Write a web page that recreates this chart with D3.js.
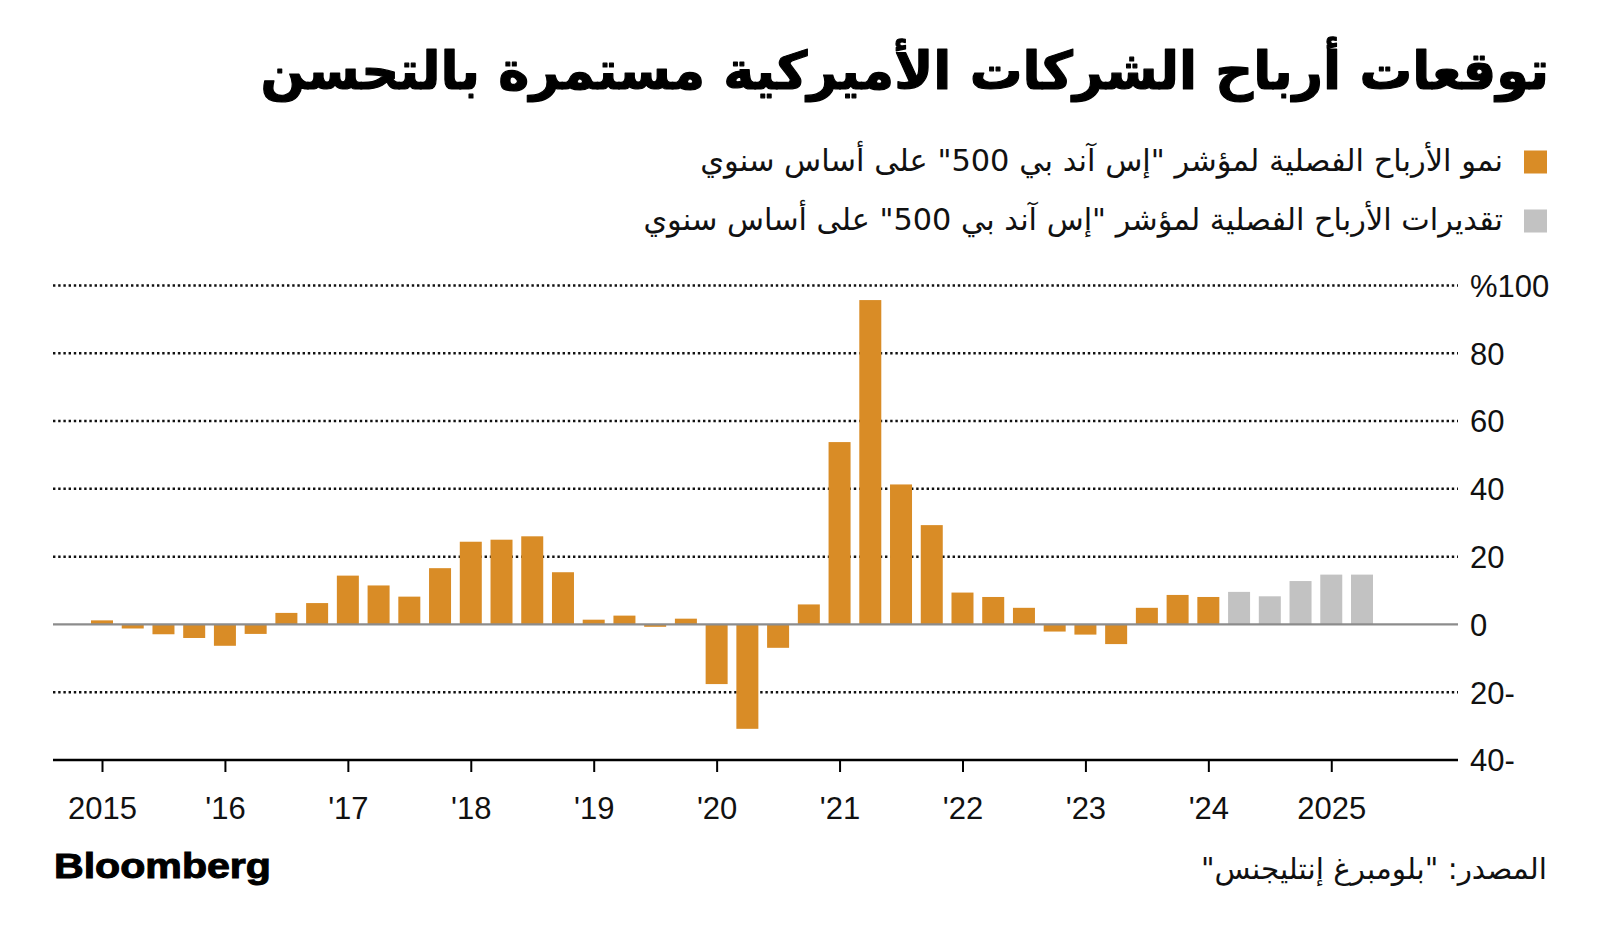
<!DOCTYPE html>
<html>
<head>
<meta charset="utf-8">
<script src="https://cdn.jsdelivr.net/npm/d3@7"></script>
<style>
  html, body { margin: 0; padding: 0; background: #fff; }
  svg { display: block; }
</style>
</head>
<body>
<svg id="chart" width="1600" height="949"></svg>
<script>
// ---- Data ----
const quarters = [
  "2015 Q1","2015 Q2","2015 Q3","2015 Q4",
  "2016 Q1","2016 Q2","2016 Q3","2016 Q4",
  "2017 Q1","2017 Q2","2017 Q3","2017 Q4",
  "2018 Q1","2018 Q2","2018 Q3","2018 Q4",
  "2019 Q1","2019 Q2","2019 Q3","2019 Q4",
  "2020 Q1","2020 Q2","2020 Q3","2020 Q4",
  "2021 Q1","2021 Q2","2021 Q3","2021 Q4",
  "2022 Q1","2022 Q2","2022 Q3","2022 Q4",
  "2023 Q1","2023 Q2","2023 Q3","2023 Q4",
  "2024 Q1","2024 Q2","2024 Q3","2024 Q4",
  "2025 Q1","2025 Q2"
];
const actualGrowth = [
  1.2, -1.2, -2.9, -4.0,
  -6.3, -2.8, 3.4, 6.3,
  14.4, 11.5, 8.2, 16.6,
  24.4, 25.0, 26.0, 15.4,
  1.4, 2.6, -0.7, 1.7,
  -17.6, -30.8, -6.9, 5.9,
  53.8, 95.7, 41.3, 29.3,
  9.4, 8.1, 4.9, -2.1,
  -3.0, -5.8, 4.9, 8.7,
  8.1
];
const estimatedGrowth = [9.6, 8.3, 12.8, 14.7, 14.7];
const yTickValues = [-40, -20, 0, 20, 40, 60, 80, 100];
const yTickLabels = ["40-", "20-", "0", "20", "40", "60", "80", "%100"];
const yearTickQuarters = ["2015 Q1","2016 Q1","2017 Q1","2018 Q1","2019 Q1","2020 Q1","2021 Q1","2022 Q1","2023 Q1","2024 Q1","2025 Q1"];
const yearTickLabels = ["2015","'16","'17","'18","'19","'20","'21","'22","'23","'24","2025"];

const titleText = "توقعات أرباح الشركات الأميركية مستمرة بالتحسن";
const legendItems = [
  'نمو الأرباح الفصلية لمؤشر "إس آند بي 500" على أساس سنوي',
  'تقديرات الأرباح الفصلية لمؤشر "إس آند بي 500" على أساس سنوي'
];
const sourceText = 'المصدر: "بلومبرغ إنتليجنس"';
const logoText = "Bloomberg";

// ---- Styles ----
const ORANGE = "#D98C26";
const GREY = "#C2C2C2";
const ARABIC_FONT = "'DejaVu Sans', 'Noto Sans', sans-serif";
const LATIN_FONT = "'Liberation Sans', Arial, sans-serif";

const svg = d3.select("#chart");

// records
const bars = quarters.map((q, i) => ({
  q, i,
  value: i < actualGrowth.length ? actualGrowth[i] : estimatedGrowth[i - actualGrowth.length],
  est: i >= actualGrowth.length
}));

// ---- Scales ----
const plotLeft = 53, plotRight = 1458;
const x = d3.scaleLinear().domain([0, quarters.length - 1]).range([102, 1362]);
const y = d3.scaleLinear().domain([-40, 100]).range([760, 285.5]);
const barW = 22;

// helper: fit text to a width and right-align
function fitText(sel, targetWidth, rightX) {
  const node = sel.node();
  const fs = parseFloat(sel.attr("font-size"));
  const w = node.getComputedTextLength();
  if (w > 0) sel.attr("font-size", (fs * targetWidth / w).toFixed(2));
  const bb = node.getBBox();
  const curX = parseFloat(sel.attr("x"));
  sel.attr("x", curX + (rightX - (bb.x + bb.width)));
}

// ---- Title ----
const title = svg.append("text")
  .attr("x", 1549).attr("y", 89)
  .attr("direction", "rtl")
  .attr("font-family", ARABIC_FONT)
  .attr("font-weight", "bold")
  .attr("font-size", 56)
  .attr("fill", "#000")
  .attr("stroke", "#000")
  .attr("stroke-width", 1.2)
  .attr("stroke-linejoin", "round")
  .text(titleText);
fitText(title, 1289, 1549);

// ---- Legend ----
const legendColors = [ORANGE, GREY];
const legendY = [162, 221];
const legendTargets = [803, 860];
legendItems.forEach((t, k) => {
  svg.append("rect")
    .attr("x", 1524).attr("y", legendY[k] - 11.5)
    .attr("width", 23).attr("height", 23)
    .attr("fill", legendColors[k]);
  const lt = svg.append("text")
    .attr("x", 1503).attr("y", legendY[k] + 9)
    .attr("direction", "rtl")
    .attr("font-family", ARABIC_FONT)
    .attr("font-size", 28)
    .attr("fill", "#111")
    .text(t);
  fitText(lt, legendTargets[k], 1503);
});

// ---- Gridlines ----
const grid = svg.append("g");
grid.selectAll("line.grid")
  .data(yTickValues.filter(v => v !== 0 && v !== -40))
  .join("line")
  .attr("class", "grid")
  .attr("x1", plotLeft).attr("x2", plotRight)
  .attr("y1", d => y(d)).attr("y2", d => y(d))
  .attr("stroke", "#111")
  .attr("stroke-width", 2.5)
  .attr("stroke-dasharray", "2.4,2.8");

// ---- Bars ----
svg.append("g").selectAll("rect")
  .data(bars)
  .join("rect")
  .attr("x", d => x(d.i) - barW / 2)
  .attr("width", barW)
  .attr("y", d => y(Math.max(0, d.value)))
  .attr("height", d => Math.abs(y(d.value) - y(0)))
  .attr("fill", d => d.est ? GREY : ORANGE);

// zero line
svg.append("line")
  .attr("x1", plotLeft).attr("x2", plotRight)
  .attr("y1", y(0)).attr("y2", y(0))
  .attr("stroke", "#8c8c8c")
  .attr("stroke-width", 2.2);

// ---- Y axis labels (right side) ----
const yAxis = d3.axisRight(y)
  .tickValues(yTickValues)
  .tickSize(0)
  .tickPadding(0)
  .tickFormat((d) => yTickLabels[yTickValues.indexOf(d)]);
const yG = svg.append("g")
  .attr("transform", `translate(1470,0)`)
  .call(yAxis);
yG.select(".domain").remove();
yG.selectAll("text")
  .attr("font-family", LATIN_FONT)
  .attr("font-size", 31)
  .attr("fill", "#111")
  .attr("direction", "ltr")
  .attr("text-anchor", "start")
  .attr("dy", "0.35em");

// ---- X axis ----
const tickIdx = yearTickQuarters.map(q => quarters.indexOf(q));
const xAxis = d3.axisBottom(x)
  .tickValues(tickIdx)
  .tickSize(12)
  .tickPadding(0)
  .tickFormat(d => yearTickLabels[tickIdx.indexOf(d)]);
const xG = svg.append("g")
  .attr("transform", `translate(0,${y(-40)})`)
  .call(xAxis);
xG.select(".domain").remove();
xG.append("line")
  .attr("x1", plotLeft).attr("x2", plotRight)
  .attr("y1", 0).attr("y2", 0)
  .attr("stroke", "#000").attr("stroke-width", 2.4);
xG.selectAll(".tick line").attr("stroke", "#000").attr("stroke-width", 2);
xG.selectAll(".tick text")
  .attr("y", 59)
  .attr("dy", 0)
  .attr("font-family", LATIN_FONT)
  .attr("font-size", 31)
  .attr("fill", "#111");

// ---- Footer ----
svg.append("text")
  .attr("x", 54).attr("y", 878)
  .attr("font-family", LATIN_FONT)
  .attr("font-weight", "bold")
  .attr("font-size", 35)
  .attr("textLength", 217)
  .attr("lengthAdjust", "spacingAndGlyphs")
  .attr("fill", "#000")
  .attr("stroke", "#000")
  .attr("stroke-width", 1)
  .text(logoText);

const src = svg.append("text")
  .attr("x", 1547).attr("y", 879)
  .attr("direction", "rtl")
  .attr("font-family", ARABIC_FONT)
  .attr("font-size", 28)
  .attr("fill", "#111")
  .text(sourceText);
fitText(src, 346, 1547);
</script>
</body>
</html>
